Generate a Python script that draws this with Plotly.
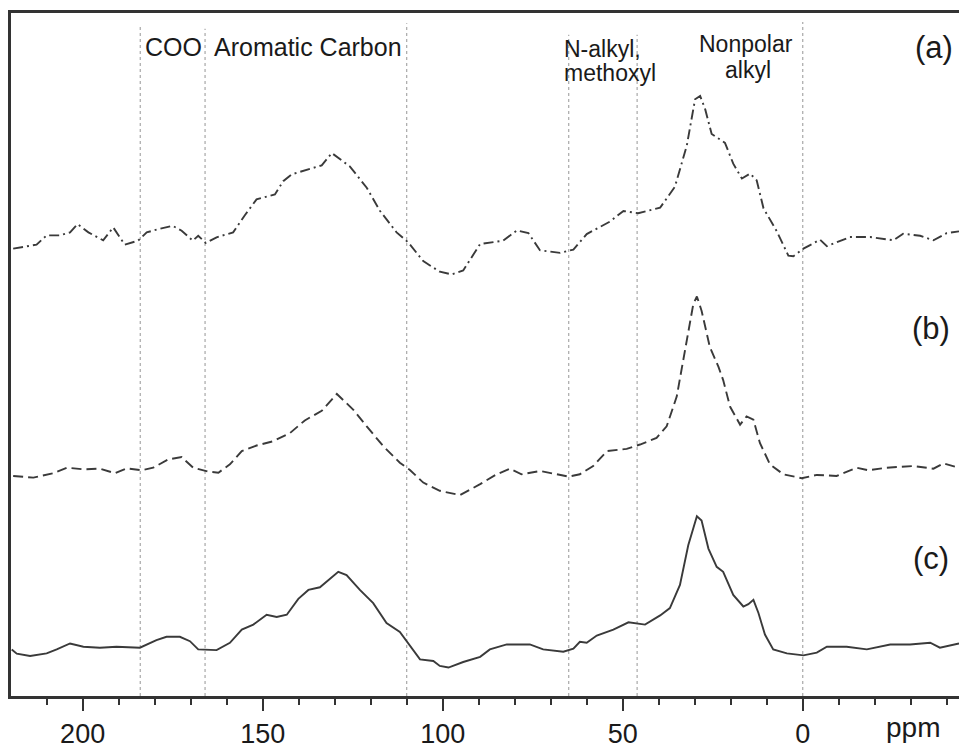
import plotly.graph_objects as go

# ---- data (ppm, intensity in arbitrary stacked units) ----
ppm_a = [219.3, 212.8, 210.0, 206.3, 203.5, 201.4, 198.4, 194.3, 191.5, 188.3, 184.6, 182.2, 179.0, 175.0,
         172.5, 169.4, 167.9, 165.8, 162.8, 158.2, 154.9, 151.7, 146.6, 144.3, 141.9, 136.9, 133.6, 130.8,
         125.8, 121.1, 117.4, 112.8, 109.6, 105.4, 100.8, 97.5, 94.3, 89.6, 83.2, 79.4, 76.2, 73.0, 67.4,
         63.7, 60.0, 53.5, 49.8, 45.7, 39.6, 35.5, 32.2, 29.9, 28.5, 27.1, 25.3, 21.6, 19.3, 16.9, 14.6,
         12.8, 10.9, 7.2, 4.0, 2.6, -0.2, -4.8, -6.7, -13.1, -18.7, -25.2, -27.9, -32.6, -36.3, -40.0, -43.4]
int_a = [451.3, 455.3, 464.7, 464.7, 467.7, 476, 467.7, 459.7, 472.7, 455.3, 459.3, 467.7, 471, 474.3,
         469.3, 459.3, 464.3, 457, 462.7, 467.7, 485.3, 501, 506, 519.3, 526.3, 531.3, 535.3, 547.7,
         534.3, 512.7, 489.3, 467.7, 457.7, 438.7, 428, 425.3, 429.3, 456, 459.3, 469.7, 467, 449.7, 447,
         450.3, 466, 478.7, 489.3, 487, 492.7, 513.7, 555.3, 602, 605.3, 592, 567, 558, 537, 522, 527,
         520.3, 492, 468.7, 444.3, 443.7, 451.3, 460.3, 453.7, 463, 463, 459.7, 466.3, 464.3, 459.7, 467, 468.7]

ppm_b = [219.3, 213.7, 208.2, 204.4, 199.8, 195.2, 191.0, 187.8, 183.6, 180.4, 176.2, 172.5, 169.3, 165.1,
         162.3, 159.1, 155.8, 151.7, 147.1, 142.4, 138.3, 133.6, 129.4, 124.8, 121.1, 116.5, 111.9, 109.1,
         105.4, 100.8, 95.2, 89.6, 85.0, 81.3, 78.1, 73.0, 68.3, 65.1, 61.9, 58.2, 54.4, 48.9, 45.2, 40.6,
         37.8, 35.0, 32.7, 30.4, 29.4, 28.1, 25.8, 23.4, 22.1, 20.2, 17.4, 15.6, 13.7, 11.9, 9.1, 5.4, 0.3,
         -3.9, -9.4, -15.0, -18.2, -23.3, -30.7, -36.3, -39.1, -43.4]
int_b = [222, 220.3, 224.7, 230.3, 228.7, 229.3, 224.7, 229.7, 227.7, 230.3, 238.7, 241, 230.3, 226.3,
         225.3, 233.7, 247, 252.7, 257, 265.3, 278, 287.7, 304.7, 288.7, 272, 252, 235.3, 228,
         215.3, 207, 202.7, 213.7, 223.7, 229.3, 223.7, 227, 223.7, 221.3, 223.7, 232, 247, 249.3, 253.7, 260.3,
         272, 302, 348.7, 395.3, 403, 388.7, 352, 332, 318.7, 292, 273.7, 282, 278.7, 255.3, 233.7, 223.7, 219.7,
         223, 222, 230.3, 227.7, 230.3, 232, 229.3, 234.7, 230.3]

ppm_c = [219.7, 218.3, 214.6, 210.0, 207.2, 203.5, 199.8, 195.2, 190.6, 184.1, 179.5, 176.7, 173.0, 170.2,
         167.9, 162.8, 159.1, 155.8, 152.6, 148.9, 146.1, 143.3, 140.1, 137.3, 134.1, 129.0, 126.7, 123.0,
         119.3, 115.6, 111.9, 106.3, 102.6, 100.8, 98.4, 94.3, 89.6, 86.9, 82.2, 75.8, 72.1, 66.5, 63.7,
         61.9, 60.0, 57.2, 52.6, 48.4, 43.8, 39.6, 36.9, 34.1, 31.8, 29.4, 28.1, 26.2, 23.9, 22.1, 19.3,
         16.5, 15.1, 13.7, 12.3, 10.5, 8.2, 4.4, -0.2, -3.9, -6.7, -12.2, -17.8, -24.3, -29.8, -35.4, -38.1, -43.4]
int_c = [47, 42.7, 40.3, 43, 47, 53, 49.7, 48.7, 49.7, 48.7, 56.3, 59.7, 59.7, 55.3,
         47, 46.3, 53.7, 67, 72, 82, 79.7, 82, 98, 107, 109.7, 125.3, 122, 107,
         93.7, 73.7, 64.7, 37, 35.3, 30.3, 28.7, 34.3, 39.5, 47, 52, 52, 47, 44.7, 47.7,
         54.7, 53.7, 61, 67, 74.3, 72, 81.3, 88.7, 112, 152, 181.3, 177, 148.7, 130.3, 125.3, 102,
         90.3, 92.7, 97, 83.7, 62, 47, 43, 41, 43.7, 49.7, 49.7, 47, 52, 52, 53.7, 48.7, 53]

region_bounds = [184, 166, 110, 65, 46, 0]
region_tops = [0.981, 0.977, 0.985, 0.968, 0.968, 0.987]
x_ticks = [200, 150, 100, 50, 0]

FONT = "Liberation Sans, Arial, Helvetica, sans-serif"
LINE = "#3a3a3a"

fig = go.Figure()
fig.add_trace(go.Scatter(x=ppm_a, y=int_a, mode="lines",
                         line=dict(color=LINE, width=1.9, dash="10px,4px,2px,4px"), name="(a)"))
fig.add_trace(go.Scatter(x=ppm_b, y=int_b, mode="lines",
                         line=dict(color=LINE, width=1.9, dash="10px,5px"), name="(b)"))
fig.add_trace(go.Scatter(x=ppm_c, y=int_c, mode="lines",
                         line=dict(color=LINE, width=1.9), name="(c)"))

for xb, top in zip(region_bounds, region_tops):
    fig.add_shape(type="line", xref="x", yref="paper", x0=xb, x1=xb, y0=0, y1=top,
                  line=dict(color="#a8a8a8", width=1.2, dash="dot"), layer="below")

def yp(pix):
    return 702 - pix

def ann(text, x, y, size=24, xanchor="center"):
    fig.add_annotation(text=text, x=x, y=y, xref="x", yref="y", showarrow=False,
                       xanchor=xanchor, yanchor="middle",
                       font=dict(family=FONT, size=size, color="#1a1a1a"))

ann("COO", 174.9, yp(47), size=25)
ann("Aromatic Carbon", 137.4, yp(47), size=25)
ann("N-alkyl,", 66.8, yp(49), size=23, xanchor="left")
ann("methoxyl", 66.8, yp(74), size=23, xanchor="left")
ann("Nonpolar", 15.8, yp(44), size=23)
ann("alkyl", 15.3, yp(70), size=23)
ann("(a)", -36.4, yp(48), size=31)
ann("(b)", -35.6, yp(331), size=31)
ann("(c)", -35.6, yp(563), size=31)
fig.add_annotation(text="ppm", xref="x", x=-30.5, yref="paper", y=-0.046, yanchor="middle",
                   showarrow=False, font=dict(family=FONT, size=28, color="#1a1a1a"))

fig.update_layout(
    width=959, height=749,
    margin=dict(l=11, r=0, t=13, b=47),
    paper_bgcolor="white", plot_bgcolor="white",
    showlegend=False,
    font=dict(family=FONT, color="#1a1a1a"),
    xaxis=dict(range=[219.9, -43.4], tickvals=x_ticks, ticktext=[str(t) for t in x_ticks],
               ticks="outside", ticklen=12, tickwidth=2, tickcolor="#333",
               minor=dict(dtick=10, tick0=0, ticks="outside", ticklen=6, tickwidth=2, tickcolor="#333"),
               showline=True, linecolor="#333", linewidth=2.5, mirror=True,
               showgrid=False, zeroline=False,
               tickfont=dict(family=FONT, size=27, color="#1a1a1a")),
    yaxis=dict(range=[0, 689], showticklabels=False, ticks="", showgrid=False, zeroline=False,
               showline=True, linecolor="#333", linewidth=2.5, mirror=False),
)

fig.write_html("out.html")
